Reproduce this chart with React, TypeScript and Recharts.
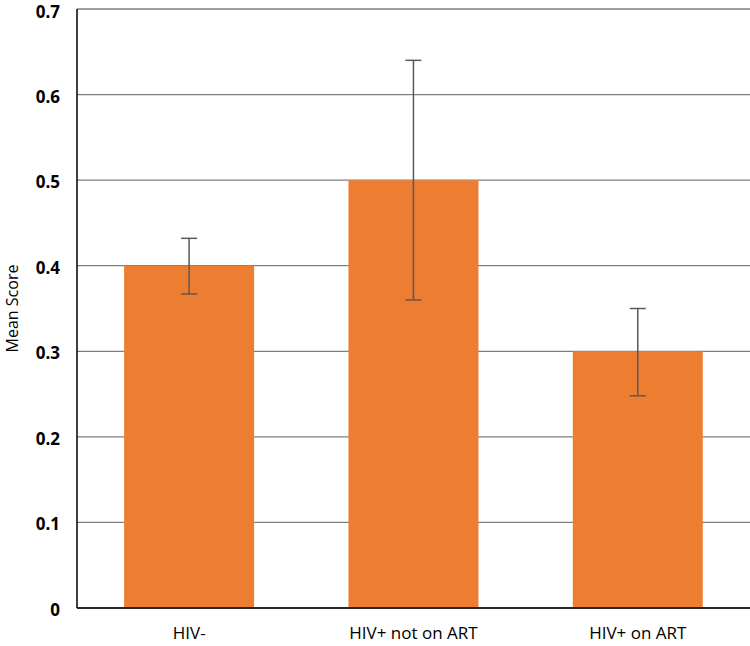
import { BarChart, Bar, XAxis, YAxis, CartesianGrid, ErrorBar } from "recharts";

const categories = ["HIV-", "HIV+ not on ART", "HIV+ on ART"];
const meanScores = [0.4, 0.5, 0.3];
const errLow = [0.033, 0.14, 0.052];
const errHigh = [0.032, 0.14, 0.05];
const yTicks = [0, 0.1, 0.2, 0.3, 0.4, 0.5, 0.6, 0.7];

const data = categories.map((name, i) => ({
  name,
  score: meanScores[i],
  err: [errLow[i], errHigh[i]],
}));

const FONT = "'Open Sans', 'Noto Sans', sans-serif";

export default function App() {
  return (
    <div style={{ position: "absolute", left: 0, top: 0, background: "#fff" }}>
      <BarChart
        width={750}
        height={646}
        data={data}
        margin={{ top: 9, right: 0, left: 0, bottom: 0 }}
        barCategoryGap="21%"
      >
        <CartesianGrid vertical={false} stroke="#7f7f7f" strokeWidth={1.3} />
        <XAxis
          dataKey="name"
          height={38}
          axisLine={{ stroke: "#000", strokeWidth: 1.5 }}
          tickLine={false}
          tickMargin={13}
          tick={{ fontSize: 17, fill: "#000", fontFamily: FONT }}
        />
        <YAxis
          width={77}
          domain={[0, 0.7]}
          ticks={yTicks}
          tickFormatter={(v: number) => (v === 0 ? "0" : String(v))}
          axisLine={{ stroke: "#000", strokeWidth: 1.5 }}
          tickLine={false}
          tickSize={0}
          tickMargin={17}
          tick={{ fontSize: 17, fill: "#000", fontWeight: 700, fontFamily: FONT, dy: 2 }}
          label={{
            value: "Mean Score",
            angle: -90,
            position: "insideLeft",
            offset: 12,
            style: { fontSize: 16, fill: "#000", fontFamily: FONT, textAnchor: "middle" },
          }}
        />
        <Bar dataKey="score" fill="#ED7D31" isAnimationActive={false}>
          <ErrorBar
            dataKey="err"
            direction="y"
            width={8}
            stroke="#595959"
            strokeWidth={1.5}
            isAnimationActive={false}
          />
        </Bar>
      </BarChart>
    </div>
  );
}
